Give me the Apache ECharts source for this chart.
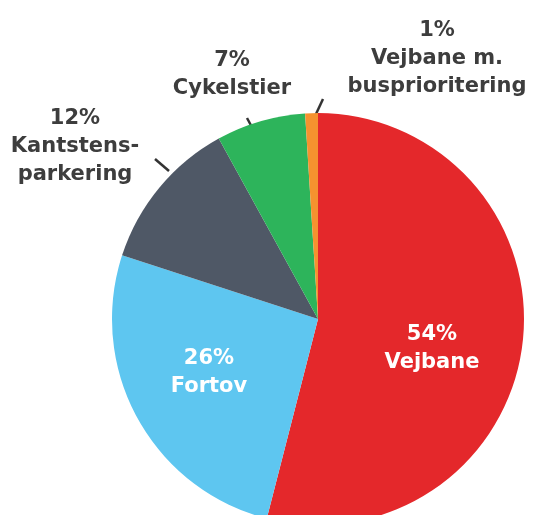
<!DOCTYPE html>
<html>
<head>
<meta charset="utf-8">
<script src="https://cdn.jsdelivr.net/npm/echarts@6/dist/echarts.min.js"></script>
<style>html,body{margin:0;padding:0;background:#fff;}#c{width:535px;height:515px;}</style>
</head>
<body>
<div id="c"></div>
<script>
var categories = ['Vejbane', 'Fortov', 'Kantstens-\nparkering', 'Cykelstier', 'Vejbane m.\nbusprioritering'];
var values = [54, 26, 12, 7, 1];
var colors = ['#e4282b', '#5ec6f0', '#4f5866', '#2db45b', '#f5922f'];

var labelPos = [
  {x: 432, y: 349, align: 'center'},
  {x: 209, y: 373, align: 'center'},
  {x: 75, y: 147, align: 'center', line: [[155, 159], [169, 171]]},
  {x: 232, y: 75, align: 'center', line: [[247, 118], [254, 131]]},
  {x: 437, y: 59, align: 'center', line: [[323, 99], [316, 114]]}
];

var chart = echarts.init(document.getElementById('c'), null, {renderer: 'canvas'});
chart.setOption({
  animation: false,
  series: [{
    type: 'pie',
    center: [318, 319],
    radius: [0, 206],
    startAngle: 90,
    clockwise: true,
    avoidLabelOverlap: false,
    data: categories.map(function (c, i) {
      var inside = i < 2;
      return {
        name: c,
        value: values[i],
        itemStyle: {color: colors[i]},
        label: {
          color: inside ? '#ffffff' : '#3d3d3d',
          position: inside ? 'inside' : 'outside'
        },
        labelLine: {show: !inside}
      };
    }),
    label: {
      formatter: function (p) { return p.value + '%\n' + p.name; },
      fontFamily: 'DejaVu Sans',
      fontWeight: 'bold',
      fontSize: 21,
      lineHeight: 28,
      align: 'center'
    },
    labelLine: {
      lineStyle: {color: '#333', width: 2.5}
    },
    labelLayout: function (params) {
      var p = labelPos[params.dataIndex];
      var r = {x: p.x, y: p.y, align: p.align, verticalAlign: 'middle'};
      if (p.line) r.labelLinePoints = [p.line[0], p.line[1], p.line[1]];
      return r;
    },
    emphasis: {disabled: true}
  }]
});
</script>
</body>
</html>
